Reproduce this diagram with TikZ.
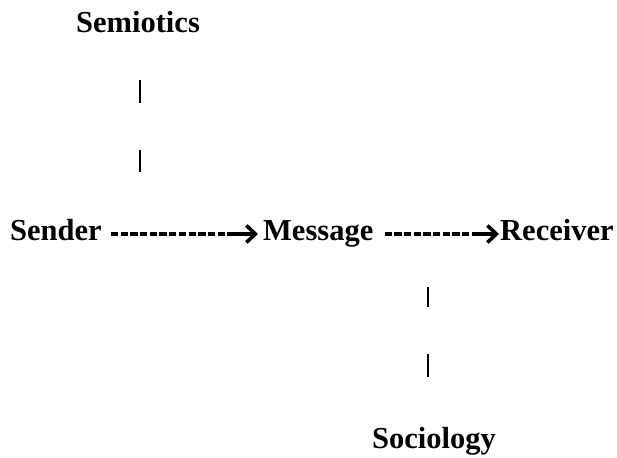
\documentclass[tikz,border=0pt]{standalone}
\usepackage{fontspec}
\setmainfont{Liberation Serif}
\usetikzlibrary{arrows.meta}
\begin{document}
\begin{tikzpicture}[x=1pt,y=-1pt,
	word/.style={inner sep=0pt,anchor=base west,font=\fontsize{30.5}{36}\selectfont\bfseries},
	dashline/.style={line width=3.2pt,dash pattern=on 7.3pt off 2.4pt},
	tipline/.style={line width=3.4pt,-{Straight Barb[length=9pt,width=17pt,line width=3.6pt]}},
	bars/.style={line width=2.7pt,dash pattern=on 22.5pt off 47pt}]
		
		\useasboundingbox (0,0) rectangle (617,457);
		
		\node[word] (semiotics) at (76,33) {Semiotics};
		\node[word] (sender) at (10,240) {Sender};
		\node[word] (message) at (263,240) {Message};
		\node[word] (receiver) at (500,240) {Receiver};
		\node[word] (sociology) at (372,448) {Sociology};
		
		\coordinate (break1) at (229,234);
		\coordinate (break2) at (472,234);
		
		\draw[dashline] ([shift={(9,-6)}]sender.base east) -- (break1);
		\draw[tipline] (break1) -- ([shift={(-5,-6)}]message.base west);
		
		\draw[dashline] ([shift={(11,-6)}]message.base east) -- (break2);
		\draw[tipline] (break2) -- ([shift={(-1,-6)}]receiver.base west);
		
		\draw[bars] ([shift={(2,47)}]semiotics.south) -- ++(0,92);
		\draw[bars] ([shift={(-6,-50)}]sociology.north) -- ++(0,-90);
	\end{tikzpicture}
\end{document}
